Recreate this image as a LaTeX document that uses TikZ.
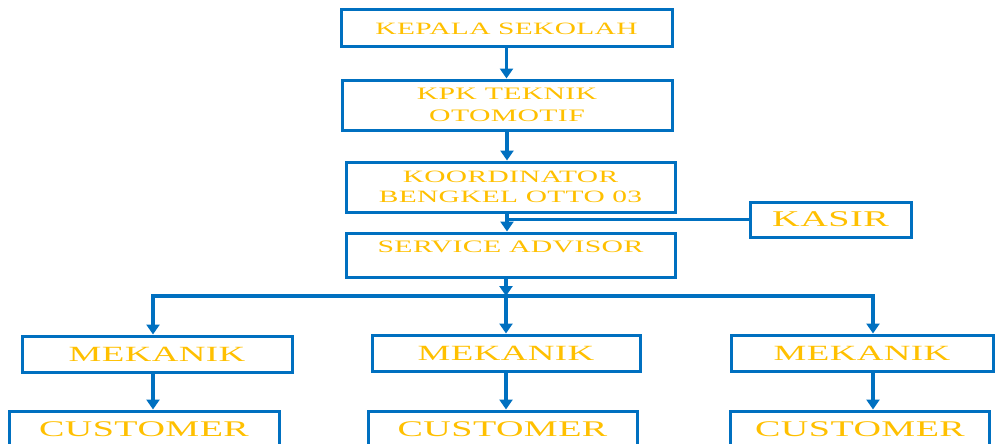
\documentclass[tikz,border=0pt]{standalone}
\usepackage{fontspec}
\usetikzlibrary{arrows.meta}
\newfontfamily\orgfont[FakeStretch=1.7,LetterSpace=2]{Liberation Serif}
\definecolor{orgblue}{HTML}{0070C0}
\definecolor{orgyellow}{HTML}{FFC000}

\begin{document}
\begin{tikzpicture}[x=1pt,y=-1pt,
  orgbox/.style={draw=orgblue,line width=3pt,fill=white,text=orgyellow,
    align=center,inner sep=0pt,font=\orgfont},
  orgline/.style={draw=orgblue,line width=3.2pt},
  orgarrow/.style={orgline,-{Triangle[width=13pt,length=10pt]}}]
\useasboundingbox (0,0) rectangle (995,444);
% upper chain
\node[orgbox,minimum width=331,minimum height=37,font=\orgfont\fontsize{17.3}{22}\selectfont] (kepala) at (506.5,28.5) {KEPALA SEKOLAH};
\node[orgbox,minimum width=330,minimum height=50,font=\orgfont\fontsize{17.5}{22}\selectfont] (kpk) at (507,105) {KPK TEKNIK\\OTOMOTIF};
\node[orgbox,minimum width=329,minimum height=50,font=\orgfont\fontsize{17.3}{20}\selectfont] (koord) at (510.5,187) {KOORDINATOR\\BENGKEL OTTO 03};
\node[orgbox,minimum width=329,text height=12pt,text depth=18pt,inner ysep=7pt,font=\orgfont\fontsize{17.5}{22}\selectfont] (service) at (510.5,255) {SERVICE ADVISOR};
\node[orgbox,minimum width=161,minimum height=35,font=\orgfont\fontsize{22.5}{26}\selectfont] (kasir) at (830.5,219.5) {KASIR};
% lower row
\node[orgbox,minimum width=270,minimum height=36,font=\orgfont\fontsize{21.7}{26}\selectfont] (mek1) at (157,354) {MEKANIK};
\node[orgbox,minimum width=268,minimum height=36,font=\orgfont\fontsize{21.7}{26}\selectfont] (mek2) at (506,353) {MEKANIK};
\node[orgbox,minimum width=262,minimum height=36,font=\orgfont\fontsize{21.7}{26}\selectfont] (mek3) at (862,353) {MEKANIK};
\node[orgbox,minimum width=270,minimum height=37,font=\orgfont\fontsize{22.4}{27}\selectfont] (cust1) at (144,429.5) {CUSTOMER};
\node[orgbox,minimum width=269,minimum height=37,font=\orgfont\fontsize{22.4}{27}\selectfont] (cust2) at (502.5,429.5) {CUSTOMER};
\node[orgbox,minimum width=259,minimum height=37,font=\orgfont\fontsize{22.4}{27}\selectfont] (cust3) at (860,429.5) {CUSTOMER};
% bus
\coordinate (b1) at (153,296);
\coordinate (b2) at (506,296);
\coordinate (b3) at (873,296);
% connectors
\draw[orgarrow] (kepala.south) -- (kepala.south |- kpk.north);
\draw[orgarrow] (kpk.south) -- (kpk.south |- koord.north);
\draw[orgarrow] (kpk.south |- koord.south) -- (kpk.south |- service.north);
\draw[orgline] (kasir.west) -- (kasir.west -| kpk.south);
\draw[orgarrow] (b2 |- service.south) -- (b2);
\draw[orgline,line cap=rect] (b1) -- (b3);
\draw[orgarrow] (b1) -- (b1 |- mek1.north);
\draw[orgarrow] (b2) -- (b2 |- mek2.north);
\draw[orgarrow] (b3) -- (b3 |- mek3.north);
\draw[orgarrow] (b1 |- mek1.south) -- (b1 |- cust1.north);
\draw[orgarrow] (b2 |- mek2.south) -- (b2 |- cust2.north);
\draw[orgarrow] (b3 |- mek3.south) -- (b3 |- cust3.north);
\end{tikzpicture}
\end{document}
